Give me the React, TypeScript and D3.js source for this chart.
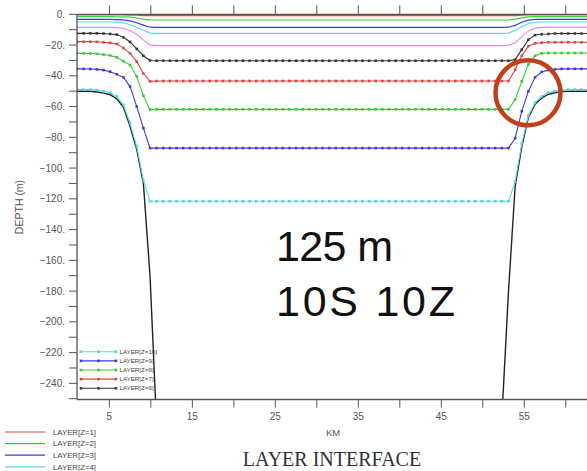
import React from "react";
import * as d3 from "d3";

// ---- data ----
const KM = [
  1.1, 1.9, 2.7, 3.5, 4.3, 5.1, 5.9, 6.7, 7.5, 8.3, 9.1, 9.9, 10.7, 11.5, 12.3, 13.1, 13.9, 14.7, 15.5, 16.3,
  17.1, 17.9, 18.7, 19.5, 20.3, 21.1, 21.9, 22.7, 23.5, 24.3, 25.1, 25.9, 26.7, 27.5, 28.3, 29.1, 29.9, 30.7, 31.5, 32.3,
  33.1, 33.9, 34.7, 35.5, 36.3, 37.1, 37.9, 38.7, 39.5, 40.3, 41.1, 41.9, 42.7, 43.5, 44.3, 45.1, 45.9, 46.7, 47.5, 48.3,
  49.1, 49.9, 50.7, 51.5, 52.3, 53.1, 53.9, 54.7, 55.5, 56.3, 57.1, 57.9, 58.7, 59.5, 60.3, 61.1, 61.9, 62.7,
];

// depths (m, positive downward)
const Z1 = [
  0.4, 0.4, 0.4, 0.4, 0.4, 0.4, 0.4, 0.45, 0.5, 0.6, 0.8, 0.9,
  0.9, 0.9, 0.9, 0.9, 0.9, 0.9, 0.9, 0.9, 0.9, 0.9, 0.9, 0.9, 0.9, 0.9, 0.9, 0.9, 0.9, 0.9, 0.9, 0.9,
  0.9, 0.9, 0.9, 0.9, 0.9, 0.9, 0.9, 0.9, 0.9, 0.9, 0.9, 0.9, 0.9, 0.9, 0.9, 0.9, 0.9, 0.9, 0.9, 0.9,
  0.9, 0.9, 0.9, 0.9, 0.9, 0.9, 0.9, 0.9, 0.9, 0.9, 0.9, 0.9, 0.9,
  0.9, 0.8, 0.6, 0.45, 0.4, 0.4, 0.4, 0.4, 0.4, 0.4, 0.4, 0.4, 0.4,
];
const Z2 = [
  1.5, 1.5, 1.5, 1.5, 1.5, 1.5, 1.6, 1.7, 1.9, 2.4, 3.1, 3.6,
  3.7, 3.7, 3.7, 3.7, 3.7, 3.7, 3.7, 3.7, 3.7, 3.7, 3.7, 3.7, 3.7, 3.7, 3.7, 3.7, 3.7, 3.7, 3.7, 3.7,
  3.7, 3.7, 3.7, 3.7, 3.7, 3.7, 3.7, 3.7, 3.7, 3.7, 3.7, 3.7, 3.7, 3.7, 3.7, 3.7, 3.7, 3.7, 3.7, 3.7,
  3.7, 3.7, 3.7, 3.7, 3.7, 3.7, 3.7, 3.7, 3.7, 3.7, 3.7, 3.7, 3.7,
  3.6, 3.1, 2.3, 1.7, 1.5, 1.5, 1.5, 1.5, 1.5, 1.5, 1.5, 1.5, 1.5,
];
const Z3 = [
  3.3, 3.3, 3.3, 3.3, 3.3, 3.3, 3.4, 3.6, 4.3, 5.5, 7, 8.4,
  8.5, 8.5, 8.5, 8.5, 8.5, 8.5, 8.5, 8.5, 8.5, 8.5, 8.5, 8.5, 8.5, 8.5, 8.5, 8.5, 8.5, 8.5, 8.5, 8.5,
  8.5, 8.5, 8.5, 8.5, 8.5, 8.5, 8.5, 8.5, 8.5, 8.5, 8.5, 8.5, 8.5, 8.5, 8.5, 8.5, 8.5, 8.5, 8.5, 8.5,
  8.5, 8.5, 8.5, 8.5, 8.5, 8.5, 8.5, 8.5, 8.5, 8.5, 8.5, 8.5, 8.5,
  8.4, 7.2, 5.2, 3.8, 3.3, 3.3, 3.3, 3.3, 3.3, 3.3, 3.3, 3.3, 3.3,
];
const Z4 = [
  5, 5, 5, 5, 5, 5, 5.1, 5.6, 6.8, 8.4, 10.4, 12.2,
  12.4, 12.4, 12.4, 12.4, 12.4, 12.4, 12.4, 12.4, 12.4, 12.4, 12.4, 12.4, 12.4, 12.4, 12.4, 12.4, 12.4, 12.4, 12.4, 12.4,
  12.4, 12.4, 12.4, 12.4, 12.4, 12.4, 12.4, 12.4, 12.4, 12.4, 12.4, 12.4, 12.4, 12.4, 12.4, 12.4, 12.4, 12.4, 12.4, 12.4,
  12.4, 12.4, 12.4, 12.4, 12.4, 12.4, 12.4, 12.4, 12.4, 12.4, 12.4, 12.4, 12.4,
  12.2, 10.5, 8, 6, 5.2, 5, 5, 5, 5, 5, 5, 5, 5,
];
const Z5 = [
  8.5, 8.5, 8.5, 8.5, 8.5, 8.5, 8.7, 9.1, 10.5, 13, 16.8, 20,
  20.4, 20.4, 20.4, 20.4, 20.4, 20.4, 20.4, 20.4, 20.4, 20.4, 20.4, 20.4, 20.4, 20.4, 20.4, 20.4, 20.4, 20.4, 20.4, 20.4,
  20.4, 20.4, 20.4, 20.4, 20.4, 20.4, 20.4, 20.4, 20.4, 20.4, 20.4, 20.4, 20.4, 20.4, 20.4, 20.4, 20.4, 20.4, 20.4, 20.4,
  20.4, 20.4, 20.4, 20.4, 20.4, 20.4, 20.4, 20.4, 20.4, 20.4, 20.4, 20.4, 20.4,
  20.2, 18.5, 14.5, 10.8, 9, 8.5, 8.3, 8.3, 8.3, 8.3, 8.3, 8.3, 8.3,
];
const Z6 = [
  12.4, 12.4, 12.4, 12.4, 12.5, 12.8, 13.2, 15, 18, 22.5, 27, 30,
  30.2, 30.2, 30.2, 30.2, 30.2, 30.2, 30.2, 30.2, 30.2, 30.2, 30.2, 30.2, 30.2, 30.2, 30.2, 30.2, 30.2, 30.2, 30.2, 30.2,
  30.2, 30.2, 30.2, 30.2, 30.2, 30.2, 30.2, 30.2, 30.2, 30.2, 30.2, 30.2, 30.2, 30.2, 30.2, 30.2, 30.2, 30.2, 30.2, 30.2,
  30.2, 30.2, 30.2, 30.2, 30.2, 30.2, 30.2, 30.2, 30.2, 30.2, 30.2, 30.2, 30.2,
  30.2, 29.5, 23, 16.5, 13.5, 13, 12.8, 12.5, 12.5, 12.5, 12.5, 12.5, 12.5,
];
const Z7 = [
  17.8, 17.8, 17.8, 17.9, 18.2, 18.6, 19.3, 22, 25.4, 30.8, 38.5, 43.6,
  43.4, 43.4, 43.4, 43.4, 43.4, 43.4, 43.4, 43.4, 43.4, 43.4, 43.4, 43.4, 43.4, 43.4, 43.4, 43.4, 43.4, 43.4, 43.4, 43.4,
  43.4, 43.4, 43.4, 43.4, 43.4, 43.4, 43.4, 43.4, 43.4, 43.4, 43.4, 43.4, 43.4, 43.4, 43.4, 43.4, 43.4, 43.4, 43.4, 43.4,
  43.4, 43.4, 43.4, 43.4, 43.4, 43.4, 43.4, 43.4, 43.4, 43.4, 43.4, 43.4, 43.4,
  43.4, 36, 27, 20.7, 18.9, 18.5, 18.2, 18.2, 18.2, 18.2, 18.2, 18.2, 18.2,
];
const Z8 = [
  25.4, 25.4, 25.5, 25.7, 26.2, 26.8, 28, 30.5, 33, 40.5, 53, 62,
  61.8, 61.8, 61.8, 61.8, 61.8, 61.8, 61.8, 61.8, 61.8, 61.8, 61.8, 61.8, 61.8, 61.8, 61.8, 61.8, 61.8, 61.8, 61.8, 61.8,
  61.8, 61.8, 61.8, 61.8, 61.8, 61.8, 61.8, 61.8, 61.8, 61.8, 61.8, 61.8, 61.8, 61.8, 61.8, 61.8, 61.8, 61.8, 61.8, 61.8,
  61.8, 61.8, 61.8, 61.8, 61.8, 61.8, 61.8, 61.8, 61.8, 61.8, 61.8, 61.8, 61.8,
  61.8, 55.5, 43.5, 32.5, 27, 25.4, 25.2, 25.2, 25.2, 25.2, 25.2, 25.2, 25.2,
];
const Z9 = [
  35.5, 35.5, 35.6, 35.8, 36.3, 37.3, 39, 41, 47, 60, 74, 87,
  87, 87, 87, 87, 87, 87, 87, 87, 87, 87, 87, 87, 87, 87, 87, 87, 87, 87, 87, 87,
  87, 87, 87, 87, 87, 87, 87, 87, 87, 87, 87, 87, 87, 87, 87, 87, 87, 87, 87, 87,
  87, 87, 87, 87, 87, 87, 87, 87, 87, 87, 87, 87, 87,
  87, 80.6, 63, 50, 41, 37.5, 36.3, 35.8, 35.5, 35.5, 35.5, 35.5, 35.5,
];
const Z10 = [
  49, 49, 49, 49.3, 50, 51, 53.5, 59, 71, 86, 108, 121.5,
  121.6, 121.6, 121.6, 121.6, 121.6, 121.6, 121.6, 121.6, 121.6, 121.6, 121.6, 121.6, 121.6, 121.6, 121.6, 121.6, 121.6, 121.6, 121.6, 121.6,
  121.6, 121.6, 121.6, 121.6, 121.6, 121.6, 121.6, 121.6, 121.6, 121.6, 121.6, 121.6, 121.6, 121.6, 121.6, 121.6, 121.6, 121.6, 121.6, 121.6,
  121.6, 121.6, 121.6, 121.6, 121.6, 121.6, 121.6, 121.6, 121.6, 121.6, 121.6, 121.6, 121.6,
  121.6, 109, 84, 66, 57.5, 53.5, 51, 50, 49.2, 49, 49, 49, 49,
];
const BOTTOM = [
  50, 50, 50, 50.5, 51.3, 52.3, 55, 60.5, 73, 88, 110, 170,
  268, 420,
  600, 600, 600, 600, 600, 600, 600, 600, 600, 600, 600, 600, 600, 600, 600, 600, 600, 600, 600, 600,
  600, 600, 600, 600, 600, 600, 600, 600, 600, 600, 600, 600, 600, 600, 600, 600, 600, 600, 600, 600,
  600, 600, 600, 600, 600, 600, 600, 600, 600,
  420, 262,
  180, 112, 86, 67, 58.5, 54.5, 52, 51, 50.3, 50, 50, 50, 50,
];

const Y_TICKS = [0, -10, -20, -30, -40, -50, -60, -70, -80, -90, -100, -110, -120, -130, -140, -150, -160, -170, -180, -190, -200, -210, -220, -230, -240, -250];
const Y_LABELS = [0, -20, -40, -60, -80, -100, -120, -140, -160, -180, -200, -220, -240];
const X_TICKS = [5, 10, 15, 20, 25, 30, 35, 40, 45, 50, 55, 60];
const X_LABELS = [5, 15, 25, 35, 45, 55];

const PLAIN_NAMES = ["LAYER[Z=1]", "LAYER[Z=2]", "LAYER[Z=3]", "LAYER[Z=4]", "LAYER[Z=5]"];
const MARK_NAMES = ["LAYER[Z=6]", "LAYER[Z=7]", "LAYER[Z=8]", "LAYER[Z=9]", "LAYER[Z=10]"];

const COLORS = ["#e8403f", "#3ccf3c", "#3a3ae0", "#55dde8", "#ee88ee"];
const MARK_COLORS = ["#333333", "#e8403f", "#3ccf3c", "#3a3ae0", "#55dde8"];

export default function App() {
  const W = 587, H = 471;
  const L = 77, R = 589, T = 14.3, B = 399.5;
  const x = d3.scaleLinear().domain([1.1, 62.8]).range([L, R]);
  const y = d3.scaleLinear().domain([0, -250.5]).range([T, B]);
  const line = d3
    .line<number>()
    .x((_, i) => x(KM[i]))
    .y((d) => y(-d));

  const plain = [Z1, Z2, Z3, Z4, Z5].map((data, i) => ({ data, color: COLORS[i], name: PLAIN_NAMES[i] }));
  const marked = [Z6, Z7, Z8, Z9, Z10].map((data, i) => ({ data, color: MARK_COLORS[i], name: MARK_NAMES[i] }));

  const axisColor = "#555";
  const font = "Liberation Sans, Arial, sans-serif";
  const fmt = (v: number) => (v < 0 ? "\u2212" + Math.abs(v) : String(v)) + ".";

  return (
    <svg width={W} height={H} style={{ position: "absolute", left: 0, top: 0, background: "#fff" }} fontFamily={font}>
      <defs>
        <clipPath id="plotclip">
          <rect x={L} y={T - 2} width={R - L} height={B - T + 2} />
        </clipPath>
      </defs>
      <rect width={W} height={H} fill="#fff" />

      {/* data */}
      <g clipPath="url(#plotclip)">
        <path d={line(BOTTOM) || ""} fill="none" stroke="#222" strokeWidth={1.4} />
        {plain.map((s) => (
          <path key={s.name} d={line(s.data) || ""} fill="none" stroke={s.color} strokeWidth={1.2} />
        ))}
        {marked.map((s) => (
          <g key={s.name}>
            <path d={line(s.data) || ""} fill="none" stroke={s.color} strokeWidth={1.1} />
            {s.data.map((d, i) => (
              <rect key={i} x={x(KM[i]) - 1.2} y={y(-d) - 1.2} width={2.4} height={2.4} fill={s.color} stroke="#0003" strokeWidth={0.3} />
            ))}
          </g>
        ))}
      </g>

      {/* axes frame */}
      <line x1={L} x2={L} y1={T} y2={B} stroke={axisColor} strokeWidth={1.3} />
      <line x1={L} x2={R} y1={B} y2={B} stroke={axisColor} strokeWidth={1.3} />
      <line x1={L} x2={R} y1={T} y2={T} stroke={axisColor} strokeWidth={1.3} />

      {/* y ticks */}
      {Y_TICKS.map((t) => (
        <line key={t} x1={L - 8} x2={L} y1={y(t)} y2={y(t)} stroke={axisColor} strokeWidth={1} />
      ))}
      {Y_LABELS.map((t) => (
        <text key={t} x={L - 12} y={y(t)} dy="0.35em" textAnchor="end" fontSize={10} fill="#555">
          {fmt(t)}
        </text>
      ))}
      <text transform={`translate(23,207) rotate(-90)`} textAnchor="middle" fontSize={10.5} fill="#555">
        DEPTH (m)
      </text>

      {/* x ticks */}
      {X_TICKS.map((t) => (
        <g key={t}>
          <line x1={x(t)} x2={x(t)} y1={B} y2={B + 8} stroke={axisColor} strokeWidth={1} />
          <line x1={x(t)} x2={x(t)} y1={T - 9} y2={T} stroke={axisColor} strokeWidth={1} />
        </g>
      ))}
      {X_LABELS.map((t) => (
        <text key={t} x={x(t)} y={420} textAnchor="middle" fontSize={10} fill="#555">
          {t}
        </text>
      ))}
      <text x={333} y={436} textAnchor="middle" fontSize={9.5} fill="#555">
        KM
      </text>

      {/* inner legend (marked series) */}
      {[...marked].reverse().map((s, i) => {
        const yy = 351.7 + i * 9.15;
        return (
          <g key={s.name}>
            <line x1={81} x2={116} y1={yy} y2={yy} stroke={s.color} strokeWidth={1.1} />
            {[81, 98.5, 116].map((xx) => (
              <rect key={xx} x={xx - 1.2} y={yy - 1.2} width={2.4} height={2.4} fill={s.color} stroke="#0003" strokeWidth={0.3} />
            ))}
            <text x={119.5} y={yy} dy="0.35em" fontSize={6.2} fill="#444">
              {s.name}
            </text>
          </g>
        );
      })}

      {/* outer legend (plain series; the 5th entry falls below the picture) */}
      {plain.slice(0, 4).map((s, i) => {
        const yy = 432 + i * 11.6;
        return (
          <g key={s.name}>
            <line x1={5} x2={45} y1={yy} y2={yy} stroke={s.color} strokeWidth={1.2} />
            <text x={53} y={yy} dy="0.35em" fontSize={7.8} fill="#444">
              {s.name}
            </text>
          </g>
        );
      })}

      {/* title */}
      <text x={332} y={466} textAnchor="middle" fontSize={20} fontFamily="Liberation Serif, Times New Roman, serif" fill="#333">
        LAYER INTERFACE
      </text>

      {/* annotations */}
      <text x={276} y={261} fontSize={43} fill="#111" textLength={117} lengthAdjust="spacing">
        125 m
      </text>
      <text x={276} y={316} fontSize={43} fill="#111" textLength={179} lengthAdjust="spacing">
        10S 10Z
      </text>
      <circle cx={528} cy={92.8} r={32.5} fill="none" stroke="#c1401b" strokeWidth={4.5} />
    </svg>
  );
}
